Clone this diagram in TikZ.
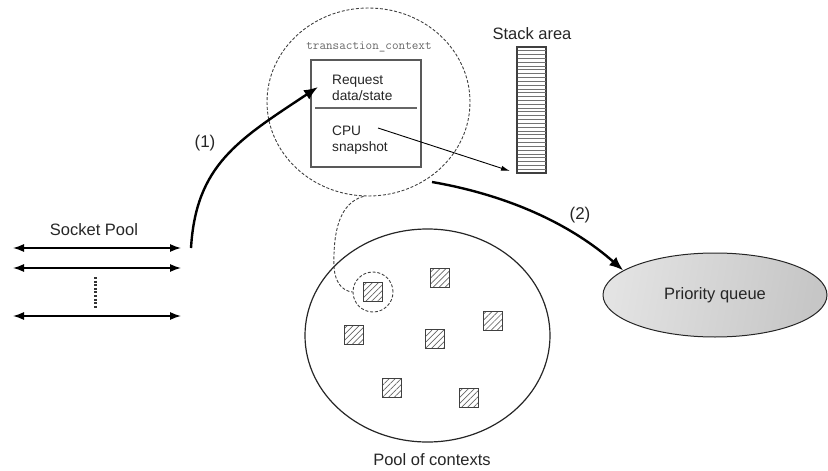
\documentclass[tikz,border=0pt]{standalone}
\usepackage{fontspec}
\setmainfont{Liberation Sans}
\usetikzlibrary{shapes.geometric,arrows.meta,patterns.meta}

\begin{document}
\begin{tikzpicture}[x=1pt,y=-1pt,
  lbl/.style={font=\fontsize{16.5}{19}\selectfont, text=black!85, inner sep=0},
  num/.style={font=\fontsize{17}{19}\selectfont, text=black!85, inner sep=0},
  boxtext/.style={font=\fontsize{13.7}{15.5}\selectfont, align=left, anchor=west,
    inner sep=0, text=black!85},
  bigarrow/.style={line width=2.4pt, -{Latex[length=14pt,width=11pt]}},
  thinarrow/.style={line width=0.9pt, -{Latex[length=9pt,width=5pt]}},
  sock/.style={line width=1.3pt,
    {Latex[length=11pt,width=8pt]}-{Latex[length=11pt,width=8pt]}},
  dashline/.style={line width=0.9pt, dash pattern=on 3pt off 1.8pt, black!75},
  ctxbox/.style={draw=black!65, line width=1.5pt, minimum width=110pt,
    minimum height=107pt, inner sep=0},
  hatchbox/.style={draw=black!75, line width=1.2pt, minimum size=19pt, inner sep=0,
    pattern={Lines[angle=45,distance=4.2pt,line width=0.7pt]}, pattern color=black!60},
  oval/.style={ellipse, inner sep=0},
]
\useasboundingbox (0,0) rectangle (828,471);

% ---- socket pool ----
\node[lbl] (socklbl) at (94,230) {Socket Pool};
\coordinate (s1l) at (13,248); \coordinate (s1r) at (181,248);
\coordinate (s2l) at (13,268); \coordinate (s2r) at (181,268);
\coordinate (s3l) at (13,316); \coordinate (s3r) at (181,316);
\draw[sock] (s1l) -- (s1r);
\draw[sock] (s2l) -- (s2r);
\draw[sock] (s3l) -- (s3r);
\coordinate (dt) at (95,277); \coordinate (db) at (95,309);
\draw[line width=3pt, dash pattern=on 2pt off 1.6pt, black!80] (dt) -- (db);

% ---- transaction context ----
\node[oval, draw=black!70, dashline, minimum width=203pt, minimum height=188pt]
  (ctx) at (368.5,102) {};
\node[font=\fontsize{12.8}{14}\selectfont\ttfamily, text=black!60, inner sep=0]
  (ctxname) at (369,47) {transaction\_context};
\node[ctxbox] (box) at (366,113.5) {};
\coordinate (divl) at (315,108); \coordinate (divr) at (417,108);
\draw[black!60, line width=1.5pt] (divl) -- (divr);
\node[boxtext] (req) at (332,88) {Request\\data/state};
\node[boxtext] (cpu) at (332,140) {CPU\\snapshot};

% ---- stack area ----
\node[lbl] (stacklbl) at (532,34) {Stack area};
\node[draw=black!75, line width=1.2pt, minimum width=29pt, minimum height=126pt,
  inner sep=0] (stack) at (531.5,110) {};
\foreach \i in {1,...,32}
  \draw[black!55, line width=0.9pt] (517.5,{47+\i*3.82}) -- (545.5,{47+\i*3.82});

\coordinate (cpuout) at (378,128);
\coordinate (stackin) at (510,171);
\draw[thinarrow] (cpuout) -- (stackin);

% ---- pool of contexts ----
\node[oval, draw=black!85, line width=1.2pt, minimum width=245pt, minimum height=213pt]
  (pool) at (427.5,335.5) {};
\node[lbl] (poollbl) at (432,460) {Pool of contexts};
\node[hatchbox] (c1) at (373,292) {};
\node[hatchbox] (c2) at (440,278) {};
\node[hatchbox] (c3) at (493,321) {};
\node[hatchbox] (c4) at (354,335) {};
\node[hatchbox] (c5) at (435,339) {};
\node[hatchbox] (c6) at (392,388) {};
\node[hatchbox] (c7) at (469,398) {};
\node[circle, dashline, draw, minimum size=40pt, inner sep=0] (sel) at (373,292) {};
\draw[dashline] (ctx.-93) .. controls (340,203) and (333,230) .. (334,267)
  .. controls (335,282) and (342,291) .. (sel.west);

% ---- priority queue ----
\node[oval, draw=black!85, line width=1pt, minimum width=224pt, minimum height=84pt,
  shading=axis, left color=gray!22, middle color=gray!6, right color=gray!45,
  shading angle=80, font=\fontsize{16.5}{19}\selectfont, text=black!85]
  (pq) at (715,295) {Priority queue};

% ---- flow arrows ----
\coordinate (start1) at (191,248);
\coordinate (reqin) at (318,87);
\draw[bigarrow] (start1) .. controls (196,165) and (238,140) .. (reqin);
\node[num] (n1) at (205,143) {(1)};

\coordinate (start2) at (432,182);
\draw[bigarrow] (start2) .. controls (490,192) and (560,215) .. (pq.165);
\node[num] (n2) at (580,215) {(2)};
\end{tikzpicture}
\end{document}
